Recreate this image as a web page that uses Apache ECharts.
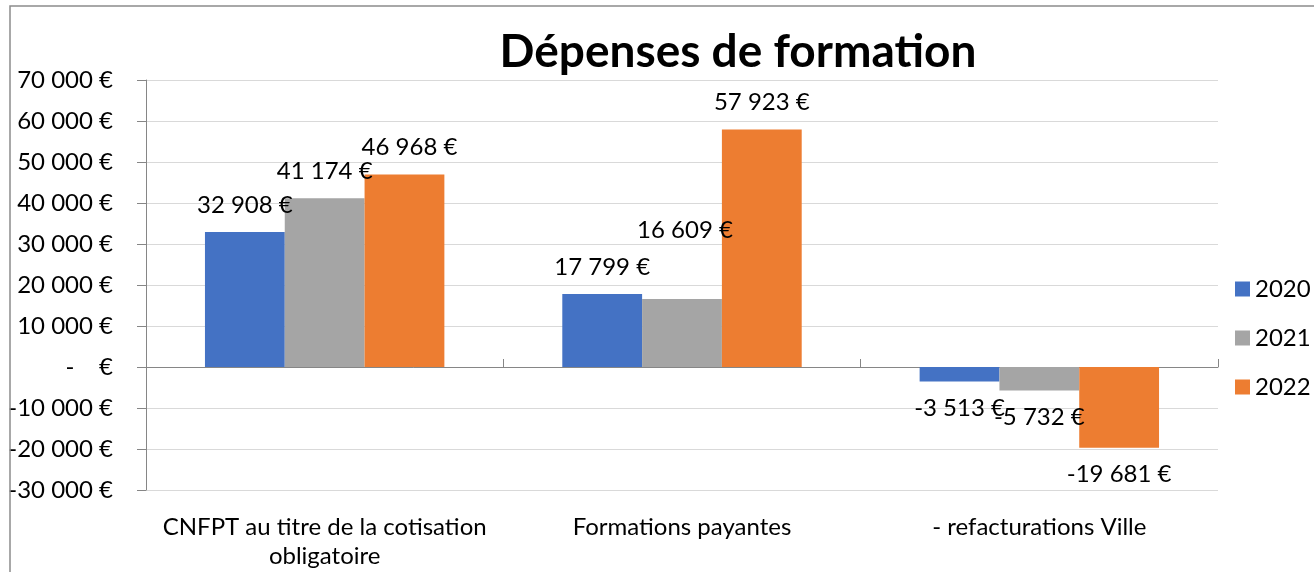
<!DOCTYPE html>
<html>
<head>
<meta charset="utf-8">
<script src="https://cdn.jsdelivr.net/npm/echarts@6/dist/echarts.min.js"></script>
<style>
html,body{margin:0;padding:0;background:#fff}
#chart{width:1314px;height:572px}
</style>
</head>
<body>
<div id="chart"></div>
<script>
// donnees
const categories = ['CNFPT au titre de la cotisation\nobligatoire', 'Formations payantes', '- refacturations Ville']
const years = ['2020', '2021', '2022']
const values2020 = [32908, 17799, -3513]
const values2021 = [41174, 16609, -5732]
const values2022 = [46968, 57923, -19681]
const colors = ['#4472C4', '#A5A5A5', '#ED7D31']

const font = 'Lato'

// format "32 908 €"
function euro(v) {
    if (v === 0) return '-    €'
    let s = Math.abs(v).toString().replace(/\B(?=(\d{3})+(?!\d))/g, ' ')
    return (v < 0 ? '-' : '') + s + ' €'
}

let seriesData = [values2020, values2021, values2022]
let series = []
for (let i = 0; i < 3; i++) {
    series.push({
        name: years[i],
        type: 'bar',
        barGap: '0%',
        barCategoryGap: '33%',
        itemStyle: { color: colors[i] },
        label: {
            show: true,
            position: 'outside',
            distance: 15,
            color: '#000',
            fontFamily: font,
            fontSize: 24,
            formatter: p => euro(p.value)
        },
        data: seriesData[i].map((v, j) => {
            // le libelle 16 609 est place plus haut dans l'original
            if (i === 1 && j === 1) return { value: v, label: { offset: [3, -42] } }
            if (i === 2 && j === 0) return { value: v, label: { offset: [5, 0] } }
            return v
        })
    })
}

let chart = echarts.init(document.getElementById('chart'))
chart.setOption({
    animation: false,
    color: colors,
    title: {
        text: 'Dépenses de formation',
        left: 733,
        top: 24,
        textAlign: 'center',
        textStyle: { fontFamily: font, fontSize: 46, fontWeight: 'bold', color: '#000' }
    },
    legend: {
        orient: 'vertical',
        left: 1230,
        top: 272,
        itemWidth: 15,
        itemHeight: 15,
        itemGap: 25,
        icon: 'rect',
        textStyle: { fontFamily: font, fontSize: 24, color: '#000' },
        data: years
    },
    grid: { left: 146, right: 96, top: 80, bottom: 82 },
    xAxis: [
        {
            type: 'category',
            data: categories,
            position: 'bottom',
            axisLine: { show: false, onZero: false },
            axisTick: { show: false },
            axisLabel: { fontFamily: font, fontSize: 24, color: '#000', margin: 23, lineHeight: 29, interval: 0 }
        },
        {
            type: 'category',
            data: categories,
            position: 'bottom',
            axisLine: { show: true, onZero: true, lineStyle: { color: '#868686', width: 1 } },
            axisTick: { show: true, inside: true, length: 8, lineStyle: { color: '#868686' } },
            axisLabel: { show: false }
        }
    ],
    yAxis: {
        type: 'value',
        min: -30000,
        max: 70000,
        interval: 10000,
        axisLine: { show: true, lineStyle: { color: '#868686' } },
        axisTick: { show: true, length: 9, lineStyle: { color: '#868686' } },
        splitLine: { lineStyle: { color: '#d9d9d9', width: 1 } },
        axisLabel: { fontFamily: font, fontSize: 24, color: '#000', margin: 33, formatter: v => euro(v) }
    },
    graphic: [{
        type: 'rect',
        shape: { x: 10, y: 6, width: 1320, height: 600 },
        style: { fill: null, stroke: '#8c8c8c', lineWidth: 1.5 },
        silent: true,
        z: 100
    }],
    series: series
})
</script>
</body>
</html>
